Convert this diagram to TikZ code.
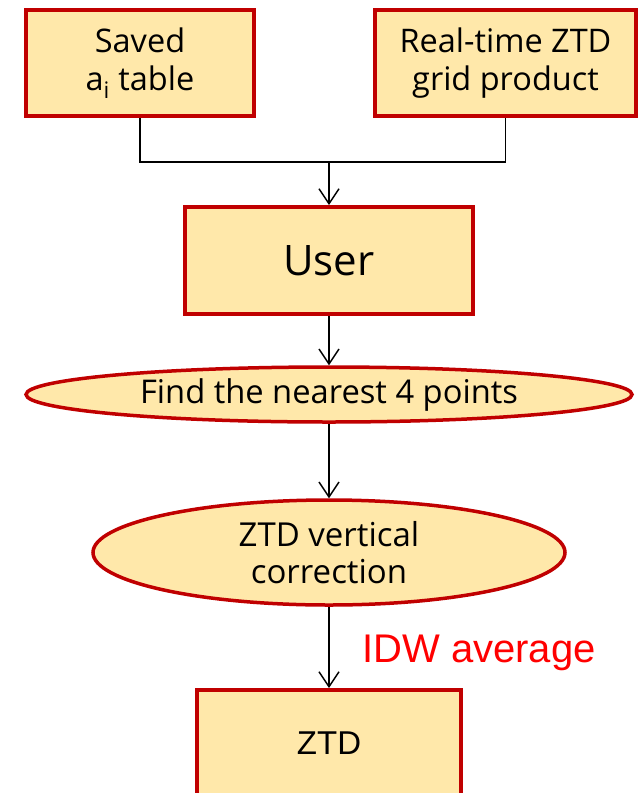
\documentclass[tikz,border=0pt]{standalone}
\usepackage{fontspec}
\setmainfont{Open Sans}
\newfontfamily\arialfont{Liberation Sans}
\usetikzlibrary{arrows.meta,shapes.geometric}
\definecolor{boxred}{HTML}{C00000}
\definecolor{boxfill}{HTML}{FFE8AA}
\definecolor{idwred}{HTML}{FF0000}
\begin{document}
\begin{tikzpicture}[x=1pt,y=-1pt,
  box/.style={draw=boxred, fill=boxfill, line width=4pt, rectangle, inner sep=0pt, align=center},
  oval/.style={draw=boxred, fill=boxfill, line width=3.5pt, ellipse, inner sep=0pt, align=center},
  conn/.style={line width=1.4pt, draw=black},
  arr/.style={conn, -{Straight Barb[length=15pt,width=20pt,line width=1.4pt]}}]
\useasboundingbox (0,0) rectangle (639,793);
\node[box, minimum width=228pt, minimum height=106pt, font=\fontsize{32.5pt}{38pt}\selectfont] (saved) at (140,63) {Saved\\a\textsubscript{i} table};
\node[box, minimum width=261pt, minimum height=106pt, font=\fontsize{32.5pt}{38pt}\selectfont] (grid) at (505.5,63) {Real-time ZTD\\grid product};
\node[box, minimum width=288pt, minimum height=107pt, font=\fontsize{42pt}{50pt}\selectfont] (user) at (329,260.5) {User};
\node[oval, minimum width=606pt, minimum height=55pt, font=\fontsize{32.7pt}{36pt}\selectfont] (find) at (329,394.5) {Find the nearest 4 points};
\node[oval, minimum width=472pt, minimum height=105pt, font=\fontsize{33pt}{37pt}\selectfont] (vert) at (329,552.5) {ZTD vertical\\correction};
\node[box, minimum width=264pt, minimum height=106pt, font=\arialfont\fontsize{33pt}{36pt}\selectfont] (ztd) at (329,743) {ZTD};
\node[anchor=base west, inner sep=0pt, text=idwred, font=\arialfont\fontsize{40pt}{44pt}\selectfont] (idw) at (362,662) {IDW average};
\coordinate (join) at (329,162);
\draw[conn] (saved.south) |- (join) -| (grid.south);
\draw[arr] (join) -- (user.north);
\draw[arr] (user.south) -- (find.north);
\draw[arr] (find.south) -- (vert.north);
\draw[arr] (vert.south) -- (ztd.north);
\end{tikzpicture}
\end{document}
